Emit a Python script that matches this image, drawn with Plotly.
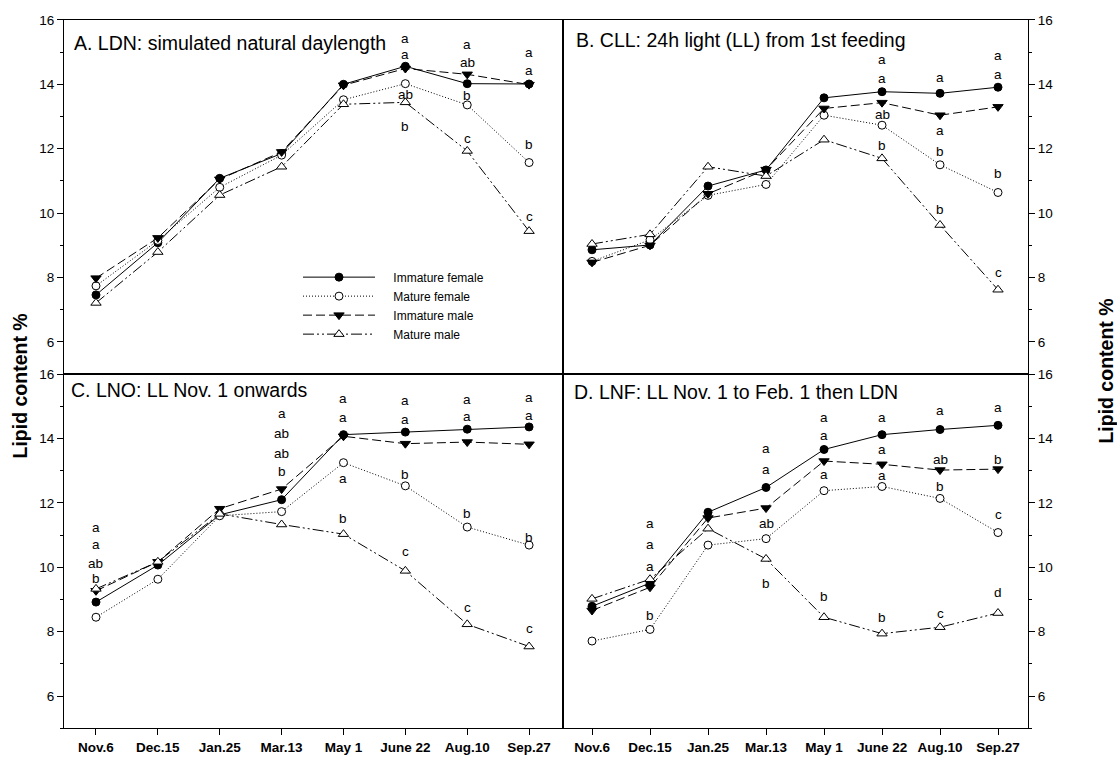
import plotly.graph_objects as go

# Sampling dates (x categories) and fish groups
dates = ["Nov.6", "Dec.15", "Jan.25", "Mar.13", "May 1", "June 22", "Aug.10", "Sep.27"]
groups = ["Immature female", "Mature female", "Immature male", "Mature male"]
y_ticks = [6, 8, 10, 12, 14, 16]

# A. LDN: simulated natural daylength
ldn_imm_f = [7.46, 9.08, 11.08, 11.85, 14.00, 14.56, 14.02, 14.01]
ldn_mat_f = [7.74, 9.15, 10.80, 11.80, 13.52, 14.02, 13.36, 11.57]
ldn_imm_m = [7.98, 9.23, 11.05, 11.90, 13.97, 14.49, 14.31, 13.99]
ldn_mat_m = [7.21, 8.79, 10.56, 11.44, 13.38, 13.44, 11.93, 9.44]
ldn_letters = [("June 22", 15.42, "a"), ("June 22", 14.94, "a"), ("June 22", 13.69, "ab"), ("June 22", 12.70, "b"),
               ("Aug.10", 15.23, "a"), ("Aug.10", 14.67, "ab"), ("Aug.10", 13.66, "b"), ("Aug.10", 12.33, "c"),
               ("Sep.27", 15.00, "a"), ("Sep.27", 14.43, "a"), ("Sep.27", 12.12, "b"), ("Sep.27", 9.88, "c")]

# B. CLL: 24h light from first feeding
cll_imm_f = [8.86, 9.01, 10.84, 11.34, 13.58, 13.77, 13.72, 13.91]
cll_mat_f = [8.50, 9.17, 10.55, 10.89, 13.04, 12.73, 11.50, 10.64]
cll_imm_m = [8.47, 9.00, 10.60, 11.35, 13.25, 13.43, 13.04, 13.30]
cll_mat_m = [9.04, 9.34, 11.44, 11.15, 12.28, 11.70, 9.63, 7.62]
cll_letters = [("June 22", 14.77, "a"), ("June 22", 14.17, "a"), ("June 22", 13.07, "ab"), ("June 22", 12.11, "b"),
               ("Aug.10", 14.20, "a"), ("Aug.10", 12.56, "a"), ("Aug.10", 11.92, "b"), ("Aug.10", 10.12, "b"),
               ("Sep.27", 14.89, "a"), ("Sep.27", 14.32, "a"), ("Sep.27", 11.22, "b"), ("Sep.27", 8.14, "c")]

# C. LNO: LL from Nov. 1 onwards
lno_imm_f = [8.92, 10.07, 11.63, 12.10, 14.12, 14.20, 14.29, 14.36]
lno_mat_f = [8.45, 9.63, 11.60, 11.73, 13.25, 12.53, 11.25, 10.69]
lno_imm_m = [9.27, 10.17, 11.82, 12.43, 14.07, 13.84, 13.89, 13.82]
lno_mat_m = [9.33, 10.17, 11.66, 11.33, 11.03, 9.89, 8.23, 7.54]
lno_letters = [("Nov.6", 11.25, "a"), ("Nov.6", 10.71, "a"), ("Nov.6", 10.12, "ab"), ("Nov.6", 9.64, "b"),
               ("Mar.13", 14.79, "a"), ("Mar.13", 14.15, "ab"), ("Mar.13", 13.53, "ab"), ("Mar.13", 12.99, "b"),
               ("May 1", 15.23, "a"), ("May 1", 14.66, "a"), ("May 1", 12.76, "a"), ("May 1", 11.53, "b"),
               ("June 22", 15.17, "a"), ("June 22", 14.58, "a"), ("June 22", 12.89, "b"), ("June 22", 10.50, "c"),
               ("Aug.10", 15.20, "a"), ("Aug.10", 14.69, "a"), ("Aug.10", 11.66, "b"), ("Aug.10", 8.76, "c"),
               ("Sep.27", 15.28, "a"), ("Sep.27", 14.71, "a"), ("Sep.27", 10.92, "b"), ("Sep.27", 8.09, "c")]

# D. LNF: LL Nov. 1 to Feb. 1, then LDN
lnf_imm_f = [8.79, 9.51, 11.71, 12.48, 13.66, 14.12, 14.28, 14.41]
lnf_mat_f = [7.71, 8.07, 10.69, 10.89, 12.38, 12.51, 12.14, 11.08]
lnf_imm_m = [8.66, 9.38, 11.53, 11.84, 13.30, 13.20, 13.02, 13.05]
lnf_mat_m = [9.02, 9.63, 11.20, 10.26, 8.45, 7.94, 8.14, 8.58]
lnf_letters = [("Dec.15", 11.37, "a"), ("Dec.15", 10.71, "a"), ("Dec.15", 10.04, "a"), ("Dec.15", 8.50, "b"),
               ("Mar.13", 13.68, "a"), ("Mar.13", 13.05, "a"), ("Mar.13", 11.35, "ab"), ("Mar.13", 9.51, "b"),
               ("May 1", 14.66, "a"), ("May 1", 14.09, "a"), ("May 1", 12.89, "a"), ("May 1", 9.08, "b"),
               ("June 22", 14.66, "a"), ("June 22", 13.67, "a"), ("June 22", 12.85, "a"), ("June 22", 8.45, "b"),
               ("Aug.10", 14.86, "a"), ("Aug.10", 13.35, "ab"), ("Aug.10", 12.51, "b"), ("Aug.10", 8.58, "c"),
               ("Sep.27", 14.97, "a"), ("Sep.27", 13.35, "b"), ("Sep.27", 11.63, "c"), ("Sep.27", 9.22, "d")]

panel_titles = ["A. LDN: simulated natural daylength", "B. CLL: 24h light (LL) from 1st feeding",
                "C. LNO: LL Nov. 1 onwards", "D. LNF: LL Nov. 1 to Feb. 1 then LDN"]
y_title = "Lipid content %"

# ---- styling ----
W, H = 1117, 761
FONT = "Liberation Sans, Arial, sans-serif"
styles = [
    dict(line=dict(color="black", width=1, dash="solid"),
         marker=dict(symbol="circle", size=8, color="black", line=dict(color="black", width=1))),
    dict(line=dict(color="black", width=1, dash="1px,2px"),
         marker=dict(symbol="circle", size=8, color="white", line=dict(color="black", width=1))),
    dict(line=dict(color="black", width=1, dash="9px,4px"),
         marker=dict(symbol="triangle-down", size=9, color="black", line=dict(color="black", width=1))),
    dict(line=dict(color="black", width=1, dash="11px,3px,2px,3px,2px,3px"),
         marker=dict(symbol="triangle-up", size=9, color="white", line=dict(color="black", width=1))),
]
# small gap between the legend sample line and its label
LABEL_GAP = "\u00a0" * 4

# panel frames in pixels: (left, right) and (top, bottom)
left_x = (64, 562.5)
right_x = (562.5, 1028)
top_y = (13, 370.5)
bot_y = (370.5, 728)

def xdom(px):
    return [px[0] / W, px[1] / W]

def ydom(py):
    return [1 - py[1] / H, 1 - py[0] / H]

panels = [
    dict(series=[ldn_imm_f, ldn_mat_f, ldn_imm_m, ldn_mat_m], letters=ldn_letters, xp=left_x, yp=top_y,
         side="left", bottom=False, xr=[-0.517, 7.54]),
    dict(series=[cll_imm_f, cll_mat_f, cll_imm_m, cll_mat_m], letters=cll_letters, xp=right_x, yp=top_y,
         side="right", bottom=False, xr=[-0.509, 7.517]),
    dict(series=[lno_imm_f, lno_mat_f, lno_imm_m, lno_mat_m], letters=lno_letters, xp=left_x, yp=bot_y,
         side="left", bottom=True, xr=[-0.517, 7.54]),
    dict(series=[lnf_imm_f, lnf_mat_f, lnf_imm_m, lnf_mat_m], letters=lnf_letters, xp=right_x, yp=bot_y,
         side="right", bottom=True, xr=[-0.509, 7.517]),
]

fig = go.Figure()
annotations = []
layout = {}

for i, p in enumerate(panels):
    n = "" if i == 0 else str(i + 1)
    xa, ya = "x" + n, "y" + n
    for g, (name, vals) in enumerate(zip(groups, p["series"])):
        fig.add_trace(go.Scatter(x=dates, y=vals, name=LABEL_GAP + name, mode="lines+markers",
                                 xaxis=xa, yaxis=ya, showlegend=(i == 0), **styles[g]))
    for d, v, t in p["letters"]:
        annotations.append(dict(x=d, y=v, xref=xa, yref=ya, text=t, showarrow=False,
                                font=dict(family=FONT, size=13.5, color="black"),
                                xanchor="center", yanchor="middle"))
    layout["xaxis" + n] = dict(
        domain=xdom(p["xp"]), anchor=ya, type="category", categoryorder="array", categoryarray=dates,
        range=p["xr"], showline=True, linecolor="black", linewidth=1, mirror=True,
        showgrid=False, zeroline=False,
        ticks="outside" if p["bottom"] else "", ticklen=6, tickcolor="black",
        showticklabels=p["bottom"],
        tickfont=dict(family=FONT, size=13.5, color="black", weight="bold"),
    )
    layout["yaxis" + n] = dict(
        domain=ydom(p["yp"]), anchor=xa, side=p["side"], range=[5, 16.001],
        tickvals=y_ticks, ticks="outside", ticklen=6, tickcolor="black",
        minor=dict(dtick=1, tick0=0, ticks="outside", ticklen=3, tickcolor="black"),
        showline=True, linecolor="black", linewidth=1, mirror=True,
        showgrid=False, zeroline=False,
        tickfont=dict(family=FONT, size=13.5, color="black"),
    )

# panel headings
title_pos = [(72, 36), (574, 33), (69, 387), (572, 389)]
for t, (px, py) in zip(panel_titles, title_pos):
    annotations.append(dict(x=px / W, y=1 - py / H, xref="paper", yref="paper", text=t, showarrow=False,
                            xanchor="left", yanchor="middle", font=dict(family=FONT, size=19.5, color="black")))

# shared y-axis titles on both sides
for px, py in [(20, 383), (1106, 368)]:
    annotations.append(dict(x=px / W, y=1 - py / H, xref="paper", yref="paper", text=y_title, showarrow=False,
                            textangle=-90, xanchor="center", yanchor="middle",
                            font=dict(family=FONT, size=19.5, color="black", weight="bold")))

fig.update_layout(
    width=W, height=H, autosize=False,
    margin=dict(l=0, r=0, t=0, b=0),
    paper_bgcolor="white", plot_bgcolor="white",
    font=dict(family=FONT, color="black"),
    annotations=annotations,
    legend=dict(x=298 / W, y=1 - 258 / H, xanchor="left", yanchor="top",
                bgcolor="rgba(0,0,0,0)", borderwidth=0, itemwidth=72,
                font=dict(family=FONT, size=12, color="black"), tracegroupgap=0),
    **layout,
)

fig.write_html("out.html")
